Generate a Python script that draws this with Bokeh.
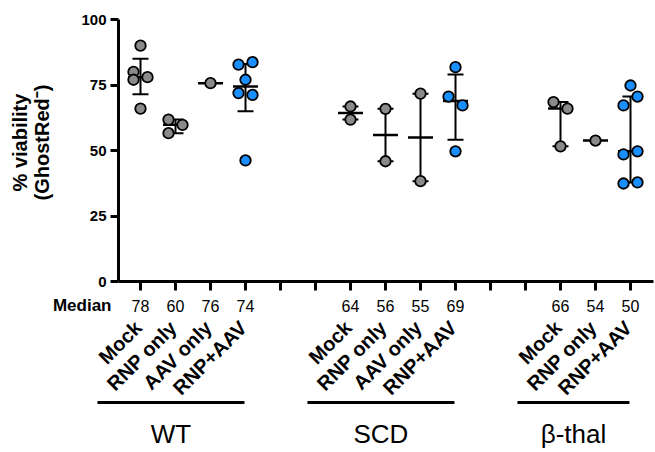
import numpy as np
from bokeh.plotting import figure
from bokeh.models import Label, Arrow, FixedTicker, ColumnDataSource
from bokeh.core.properties import value
from bokeh.embed import file_html
from bokeh.resources import INLINE

# ---------------- data ----------------
groups = ["WT", "SCD", "β-thal"]
conditions = [
    ["Mock", "RNP only", "AAV only", "RNP+AAV"],
    ["Mock", "RNP only", "AAV only", "RNP+AAV"],
    ["Mock", "RNP only", "RNP+AAV"],
]
wt_mock = [80, 78, 77, 90, 66]
wt_rnp = [61.8, 59.8, 56.6]
wt_aav = [75.7]
wt_rnp_aav = [82.8, 83.7, 77.0, 71.9, 71.2, 46.2]
scd_mock = [66.8, 61.8]
scd_rnp = [65.9, 45.9]
scd_aav = [71.7, 38.3]
scd_rnp_aav = [70.6, 67.2, 81.8, 49.7]
bt_mock = [68.5, 66.0, 51.6]
bt_rnp = [53.8]
bt_rnp_aav = [74.8, 67.2, 70.6, 48.5, 49.7, 37.4, 37.8]
values_by_group = [
    [wt_mock, wt_rnp, wt_aav, wt_rnp_aav],
    [scd_mock, scd_rnp, scd_aav, scd_rnp_aav],
    [bt_mock, bt_rnp, bt_rnp_aav],
]
median_labels = [["78", "60", "76", "74"], ["64", "56", "55", "69"], ["66", "54", "50"]]
y_ticks = [0, 25, 50, 75, 100]
y_title_lines = ["% viability", "(GhostRed\u207b)"]
median_title = "Median"

# ---------------- layout / style ----------------
W, H = 655, 452
X1_PX = 140.0    # canvas x of the first category slot
PX_X = 35.0      # pixels per category slot
Y0_PX = 281.0    # canvas y of value 0
PX_Y = 2.62      # pixels per % unit
AXIS_LEFT_PX = 118.0
AXIS_RIGHT_PX = 653.0
FONT = "Liberation Sans"
GREY = "#8a8a8a"
BLUE = "#1a8fff"
GAP = 2          # empty slots between groups


def dx(px):           # canvas x -> data x
    return 1 + (px - X1_PX) / PX_X


def dy(py):           # canvas y -> data y
    return (Y0_PX - py) / PX_Y


x_start, x_end = dx(0), dx(W)
y_end, y_start = dy(0), dy(H)


def quartiles(v):
    s = np.sort(np.asarray(v, float))
    n = len(s)

    def at(rank):
        rank = min(max(rank, 1), n)
        lo = int(np.floor(rank)) - 1
        hi = min(lo + 1, n - 1)
        return s[lo] + (rank - np.floor(rank)) * (s[hi] - s[lo])

    return at((n + 1) / 4), float(np.median(s)), at(3 * (n + 1) / 4)


def swarm(vals, gap_px=10, half_px=7):
    n = len(vals)
    order = sorted(range(n), key=lambda i: vals[i])
    clusters, cur = [], [order[0]]
    for a, b in zip(order[:-1], order[1:]):
        if (vals[b] - vals[a]) * PX_Y < gap_px:
            cur.append(b)
        else:
            clusters.append(cur)
            cur = [b]
    clusters.append(cur)
    off = [0.0] * n
    for c in clusters:
        if len(c) > 1:
            for k, i in enumerate(sorted(c)):
                off[i] = -half_px if k % 2 == 0 else half_px
    return [o / PX_X for o in off]


p = figure(width=W, height=H, x_range=(x_start, x_end), y_range=(y_start, y_end),
           output_backend="svg", toolbar_location=None,
           min_border_left=0, min_border_right=0, min_border_top=0, min_border_bottom=0)
p.outline_line_color = None
p.grid.visible = False
p.background_fill_color = "white"
p.border_fill_color = "white"

# ---------------- positions ----------------
pos = 1
xs_all, ys_all, cols_all = [], [], []
bar_x, bar_lo, bar_hi = [], [], []
med_x, med_y = [], []
tick_x, tick_lab, tick_med = [], [], []
group_spans = []
for g, conds in enumerate(conditions):
    first = pos
    for c, cond in enumerate(conds):
        vals = values_by_group[g][c]
        offs = swarm(vals)
        col = BLUE if cond == "RNP+AAV" else GREY
        for v, o in zip(vals, offs):
            xs_all.append(pos + o)
            ys_all.append(v)
            cols_all.append(col)
        q1, md, q3 = quartiles(vals)
        if len(vals) > 1:
            bar_x.append(pos); bar_lo.append(q1); bar_hi.append(q3)
        med_x.append(pos); med_y.append(md)
        tick_x.append(pos); tick_lab.append(cond); tick_med.append(median_labels[g][c])
        pos += 1
    group_spans.append((first, pos - 1))
    pos += GAP
slots = list(range(1, pos - GAP))

# ---------------- axes (fixed inside the frame) ----------------
ya = p.yaxis[0]
ya.fixed_location = dx(AXIS_LEFT_PX)
ya.ticker = FixedTicker(ticks=y_ticks)
ya.bounds = (min(y_ticks), max(y_ticks))
ya.axis_line_width = 3
ya.major_tick_line_width = 3
ya.major_tick_out = 8
ya.major_tick_in = 0
ya.minor_tick_line_color = None
ya.major_label_standoff = 4
ya.major_label_text_font = FONT
ya.major_label_text_font_style = "bold"
ya.major_label_text_font_size = "15px"
ya.major_label_text_color = "black"

xa = p.xaxis[0]
xa.fixed_location = 0
xa.ticker = FixedTicker(ticks=slots)
xa.bounds = (dx(AXIS_LEFT_PX), dx(AXIS_RIGHT_PX))
xa.axis_line_width = 3
xa.major_tick_line_width = 3
xa.major_tick_out = 9
xa.major_tick_in = 0
xa.minor_tick_line_color = None
xa.major_label_text_color = None

# y title as two rotated lines
for txt, cx in zip(y_title_lines, [19, 41]):
    p.add_layout(Label(x=dx(cx), y=dy(142), text=txt, angle=90, angle_units="deg",
                       text_align="center", text_baseline="middle", text_font=FONT,
                       text_font_style="bold", text_font_size="20px", text_color="black"))

# ---------------- IQR bars and medians ----------------
cap = 8 / PX_X
mw = 12.5 / PX_X
p.segment(x0=bar_x, y0=bar_lo, x1=bar_x, y1=bar_hi, line_width=2, line_color="black")
p.segment(x0=[x - cap for x in bar_x], y0=bar_lo, x1=[x + cap for x in bar_x], y1=bar_lo,
          line_width=2, line_color="black")
p.segment(x0=[x - cap for x in bar_x], y0=bar_hi, x1=[x + cap for x in bar_x], y1=bar_hi,
          line_width=2, line_color="black")
p.segment(x0=[x - mw for x in med_x], y0=med_y, x1=[x + mw for x in med_x], y1=med_y,
          line_width=2.5, line_color="black")

# ---------------- points ----------------
src = ColumnDataSource(dict(x=xs_all, y=ys_all, c=cols_all))
p.scatter("x", "y", source=src, size=10.5, fill_color="c", line_color="black", line_width=1.8)

# ---------------- median row ----------------
p.text(x=tick_x, y=[dy(305)] * len(tick_x), text=tick_med,
       text_align="center", text_baseline="middle",
       text_font=value(FONT), text_font_size="16px", text_color="black")
p.add_layout(Label(x=dx(111), y=dy(305), text=median_title,
                   text_align="right", text_baseline="middle", text_font=FONT,
                   text_font_style="bold", text_font_size="17px", text_color="black"))

# ---------------- rotated condition labels ----------------
for x, lab in zip(tick_x, tick_lab):
    p.add_layout(Label(x=x - 10 / PX_X, y=dy(316), text=lab, angle=45, angle_units="deg",
                       text_align="right", text_baseline="top", text_font=FONT,
                       text_font_style="bold", text_font_size="20px", text_color="black"))

# ---------------- group lines and names ----------------
gx = []
for (a, b) in group_spans:
    x0 = a - 1.23
    x1 = b - 0.03
    p.add_layout(Arrow(x_start=x0, y_start=dy(402), x_end=x1, y_end=dy(402),
                       end=None, start=None, line_width=3, line_color="black"))
    gx.append((x0 + x1) / 2)
p.text(x=gx, y=[dy(433)] * len(gx), text=groups,
       text_align="center", text_baseline="middle",
       text_font=value(FONT), text_font_size="26px", text_color="black")

open("out.html", "w").write(file_html(p, INLINE))
